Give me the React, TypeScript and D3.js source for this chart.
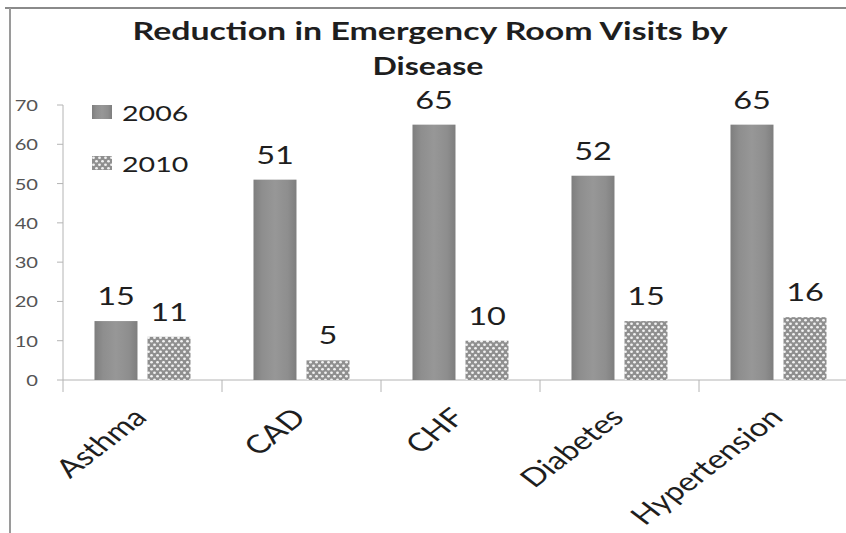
import React from "react";
import * as d3 from "d3";

const title = ["Reduction in Emergency Room Visits by", "Disease"];
const categories = ["Asthma", "CAD", "CHF", "Diabetes", "Hypertension"];
const seriesNames = ["2006", "2010"];
const values2006 = [15, 51, 65, 52, 65];
const values2010 = [11, 5, 10, 15, 16];
const yTicks = [0, 10, 20, 30, 40, 50, 60, 70];

const W = 846;
const H = 533;
const SX = 1.3; // horizontal stretch of the source picture
const FONT = "Lato, 'Open Sans', sans-serif";

export default function App() {
  const x0 = 63;
  const step = 159;
  const y = d3.scaleLinear().domain([0, 70]).range([380, 105]);
  const x = d3
    .scaleBand<string>()
    .domain(categories)
    .range([x0, x0 + step * categories.length])
    .paddingInner(0)
    .paddingOuter(0);
  const xs = d3
    .scaleBand<string>()
    .domain(seriesNames)
    .range([0, x.bandwidth()])
    .paddingInner(0.189)
    .paddingOuter(0.594);

  const data = categories.map((c, i) => ({
    cat: c,
    vals: [
      { s: "2006", v: values2006[i] },
      { s: "2010", v: values2010[i] },
    ],
  }));

  const fillFor = (s: string) => (s === "2006" ? "url(#g2006)" : "url(#p2010)");

  return (
    <svg
      width={W}
      height={H}
      style={{ position: "absolute", left: 0, top: 0, background: "#fff" }}
    >
      <defs>
        <linearGradient id="g2006" x1="0" x2="1" y1="0" y2="0">
          <stop offset="0" stopColor="#7e7e7e" />
          <stop offset="0.2" stopColor="#8e8e8e" />
          <stop offset="0.5" stopColor="#979797" />
          <stop offset="0.8" stopColor="#8e8e8e" />
          <stop offset="1" stopColor="#7e7e7e" />
        </linearGradient>
        <pattern id="p2010" width="6" height="7" patternUnits="userSpaceOnUse">
          <rect width="6" height="7" fill="#8f8f8f" />
          <ellipse cx="1.5" cy="1.75" rx="1.4" ry="1.25" fill="#f2f2f2" />
          <ellipse cx="4.5" cy="5.25" rx="1.4" ry="1.25" fill="#f2f2f2" />
        </pattern>
      </defs>

      {/* frame */}
      <line x1={5} x2={W} y1={8} y2={8} stroke="#8a8a8a" strokeWidth={2} />
      <line x1={10} x2={10} y1={8} y2={H} stroke="#9a9a9a" strokeWidth={2} />

      {/* title */}
      <g fontFamily={FONT} fontWeight={700} fill="#1e1e1e" fontSize={25}>
        <text x={430} y={40} textAnchor="middle" textLength={595} lengthAdjust="spacingAndGlyphs">
          {title[0]}
        </text>
        <text x={428} y={75} textAnchor="middle" textLength={111} lengthAdjust="spacingAndGlyphs">
          {title[1]}
        </text>
      </g>

      {/* y axis */}
      <line x1={x0} x2={x0} y1={y(70)} y2={y(0) + 12} stroke="#b4b4b4" strokeWidth={1} />
      {yTicks.map((t) => (
        <g key={t}>
          <line x1={x0 - 6} x2={x0} y1={y(t)} y2={y(t)} stroke="#b4b4b4" strokeWidth={1} />
          <text
            transform={`translate(38,${y(t) + 6}) scale(${SX},1)`}
            textAnchor="end"
            fontFamily={FONT}
            fontSize={15.5}
            fill="#555"
          >
            {t}
          </text>
        </g>
      ))}

      {/* x axis */}
      <line x1={x0} x2={W} y1={y(0)} y2={y(0)} stroke="#b4b4b4" strokeWidth={1} />
      {categories.map((c) => (
        <line
          key={c}
          x1={(x(c) as number) + x.bandwidth()}
          x2={(x(c) as number) + x.bandwidth()}
          y1={y(0)}
          y2={y(0) + 12}
          stroke="#b4b4b4"
          strokeWidth={1}
        />
      ))}

      {/* bars */}
      {data.map((d) => (
        <g key={d.cat} transform={`translate(${x(d.cat)},0)`}>
          {d.vals.map((b) => {
            const bx = xs(b.s) as number;
            return (
              <g key={b.s}>
                <rect
                  x={bx}
                  y={y(b.v)}
                  width={xs.bandwidth()}
                  height={y(0) - y(b.v)}
                  fill={fillFor(b.s)}
                />
                <text
                  transform={`translate(${bx + xs.bandwidth() / 2},${y(b.v) - 16}) scale(${SX},1)`}
                  textAnchor="middle"
                  fontFamily={FONT}
                  fontSize={25}
                  fill="#1e1e1e"
                >
                  {b.v}
                </text>
              </g>
            );
          })}
        </g>
      ))}

      {/* category labels */}
      {categories.map((c) => {
        const cx = (x(c) as number) + x.bandwidth() / 2;
        return (
          <text
            key={c}
            transform={`translate(${cx + 6},419) scale(${SX},1) rotate(-45)`}
            textAnchor="end"
            fontFamily={FONT}
            fontSize={25.5}
            fill="#1e1e1e"
          >
            {c}
          </text>
        );
      })}

      {/* legend */}
      {seriesNames.map((s, i) => (
        <g key={s} transform={`translate(92,${105 + i * 51})`}>
          <rect x={0} y={0} width={20} height={14} fill={fillFor(s)} />
          <text
            transform={`translate(30,16) scale(${SX},1)`}
            fontFamily={FONT}
            fontSize={22}
            fill="#1e1e1e"
          >
            {s}
          </text>
        </g>
      ))}
    </svg>
  );
}
